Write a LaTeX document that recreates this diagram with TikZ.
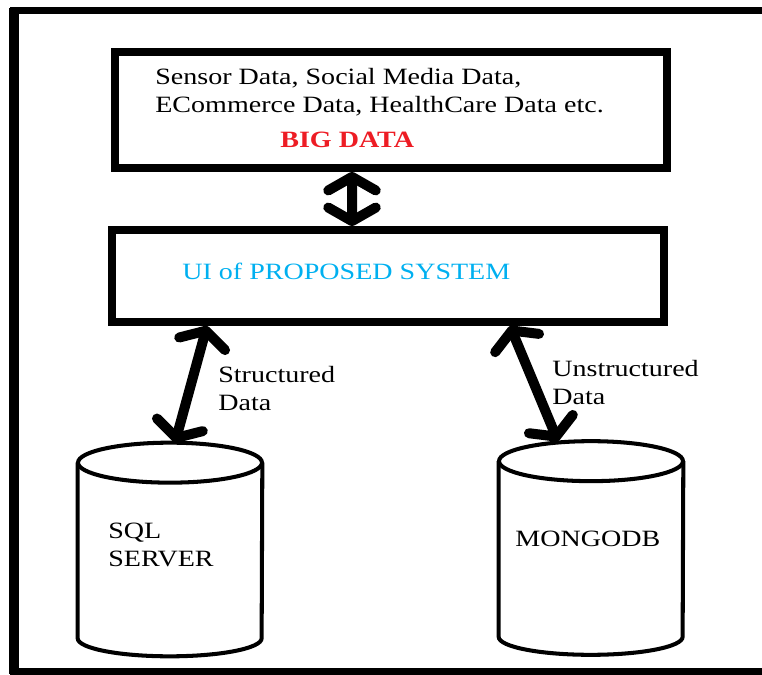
\documentclass[tikz,border=0pt]{standalone}
\usepackage{fontspec}
\setmainfont{Liberation Serif}[FakeStretch=1.2]
\usetikzlibrary{arrows.meta}
\definecolor{bigred}{RGB}{237,28,36}
\definecolor{uiblue}{RGB}{0,176,240}
\tikzset{gbox/.style={
    rectangle,
    draw,
    line width=4.5pt,
    minimum width=11.04cm
  },
  dbbox/.style={
    rectangle,
    minimum width=3.68cm,
    minimum height=4.26cm
  },
  dbline/.style={line width=2.3pt},
  txt/.style={anchor=base west,inner sep=0pt,align=left,
    font=\fontsize{13.3pt}{16.4pt}\selectfont},
  darr/.style={line width=5.7pt,
    {Straight Barb[length=0.27cm,width=0.95cm,round]}-{Straight Barb[length=0.27cm,width=0.95cm,round]}},
}

\begin{document}
\begin{tikzpicture}[x=0.02cm,y=-0.02cm]
  \useasboundingbox (0,0) rectangle (762,675);
  % outer frame
  \draw[line width=4pt] (762,10.5) -- (14,10.5) -- (14,672) -- (762,672);
  \draw[line width=5.7pt] (14,8.5) -- (14,674);
  \node [gbox,minimum height=2.32cm] (bigdata) at (391,110) {};
  \node [gbox,minimum height=1.84cm] (ui) at (388,276) {};
  \node [dbbox] (sql) at (170,549.5) {};
  \node [dbbox] (mongo) at (591,548) {};
  % database cylinders
  \foreach \db in {sql,mongo} {
    \draw[dbline] ([yshift=-0.4cm]\db.north west) -- ([yshift=0.36cm]\db.south west)
      arc[start angle=180,end angle=360,x radius=1.84cm,y radius=0.36cm]
      -- ([yshift=-0.4cm]\db.north east);
    \draw[dbline] ([yshift=-0.4cm]\db.north) ellipse [x radius=1.84cm,y radius=0.4cm];
  }
  \node [txt] (sources) at (155,113) {Sensor Data, Social Media Data,\\ECommerce Data, HealthCare Data etc.};
  \node [txt,text=bigred,font=\fontsize{13.3pt}{16.4pt}\selectfont\bfseries] (bigtitle) at (280,148) {BIG DATA};
  \node [txt,text=uiblue] (uititle) at (182,280) {UI of PROPOSED SYSTEM};
  \node [txt] (structured) at (218,411) {Structured\\Data};
  \node [txt] (unstructured) at (552,405) {Unstructured\\Data};
  \node [txt] (sqltitle) at (108,567) {SQL\\SERVER};
  \node [txt] (mongotitle) at (515,547) {MONGODB};
  \draw[darr] ([xshift=-0.78cm]bigdata.south) -- ([xshift=-0.72cm]ui.north);
  \draw[darr] ([xshift=-3.62cm]ui.south) -- ([xshift=0.1cm]sql.north);
  \draw[darr] ([xshift=2.44cm]ui.south) -- ([xshift=-0.66cm]mongo.north);
\end{tikzpicture}
\end{document}
